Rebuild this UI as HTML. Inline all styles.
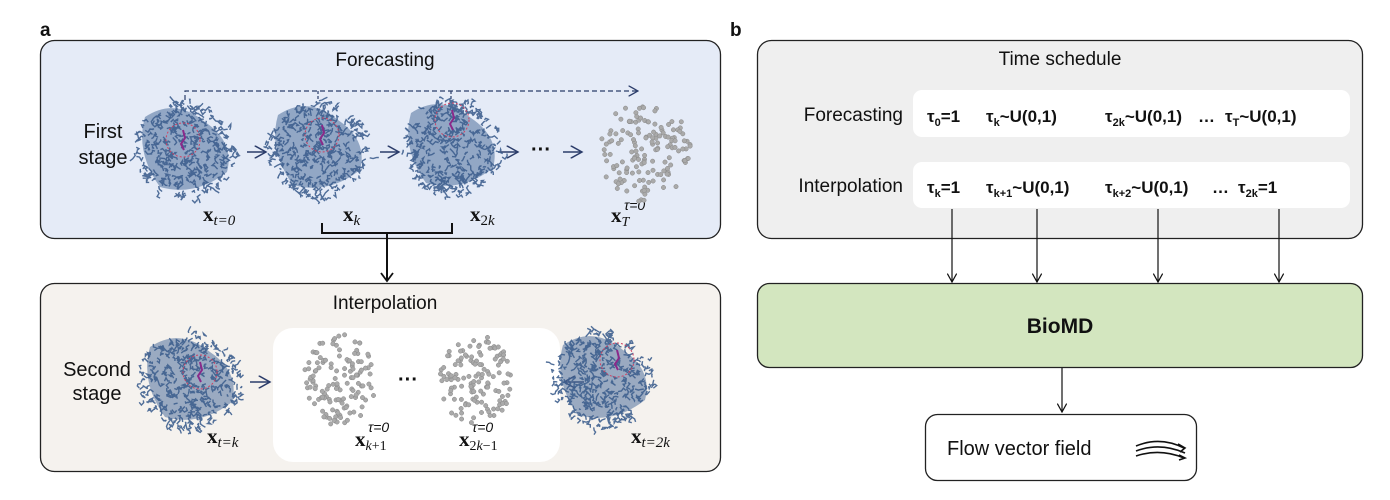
<!DOCTYPE html>
<html><head><meta charset="utf-8"><style>
html,body{margin:0;padding:0;background:#fff;width:1390px;height:500px;overflow:hidden}
svg{display:block}
text{font-family:"Liberation Sans",sans-serif;fill:#111}
.m{font-family:"Liberation Serif",serif;font-weight:bold}
</style></head><body>
<svg id="s" width="1390" height="500" viewBox="0 0 1390 500" xmlns="http://www.w3.org/2000/svg">
<defs>
<marker id="ah" viewBox="0 0 10 10" refX="9" refY="5" markerWidth="8" markerHeight="8" orient="auto"><path d="M0,0 L9,5 L0,10" fill="none" stroke="#111" stroke-width="1.3"/></marker>
<marker id="ab" viewBox="0 0 10 10" refX="9" refY="5" markerWidth="9" markerHeight="9" orient="auto"><path d="M0,0 L9,5 L0,10" fill="none" stroke="#2b3c6a" stroke-width="1.2"/></marker>
</defs>
<text x="40" y="36" font-size="19" font-weight="bold">a</text>
<text x="730" y="36" font-size="19" font-weight="bold">b</text>

<rect x="40.5" y="40.5" width="680" height="198" rx="14" fill="#e5ebf7" stroke="#222" stroke-width="1.3"/>
<text x="385" y="66" font-size="19" text-anchor="middle">Forecasting</text>
<path d="M185,100 V91 H638" fill="none" stroke="#2b3c6a" stroke-width="1.2" stroke-dasharray="5,3" marker-end="url(#ab)"/>
<path d="M318,91 V100 M451,91 V100" stroke="#2b3c6a" stroke-width="1.2" stroke-dasharray="3,2"/>
<text x="103" y="138" font-size="20" text-anchor="middle">First</text>
<text x="103" y="164" font-size="20" text-anchor="middle">stage</text>
<g stroke="#2b3c6a" stroke-width="1.4" fill="none">
<path d="M247,152 H266" marker-end="url(#ab)"/>
<path d="M380,152 H399" marker-end="url(#ab)"/>
<path d="M498,152 H518" marker-end="url(#ab)"/>
<path d="M563,152 H582" marker-end="url(#ab)"/>
</g>
<text x="541" y="156" font-size="20" text-anchor="middle" font-weight="bold">···</text>
<text x="203" y="221" font-size="21" class="m">x<tspan font-size="15" font-style="italic" font-weight="normal" dy="4">t=0</tspan></text>
<text x="343" y="221" font-size="21" class="m">x<tspan font-size="15" font-style="italic" font-weight="normal" dy="4">k</tspan></text>
<text x="470" y="221" font-size="21" class="m">x<tspan font-size="15" font-weight="normal" dy="4">2<tspan font-style="italic">k</tspan></tspan></text>
<text x="611" y="222" font-size="21" class="m">x<tspan font-size="14" font-style="italic" font-weight="normal" dy="4">T</tspan></text>
<text x="624" y="210" font-size="14" font-style="italic" font-family="Liberation Serif">τ=0</text>
<path d="M322,223 V233 H452 V223 M387,233 V280" fill="none" stroke="#111" stroke-width="2"/>
<path d="M381,273 L387,281 L393,273" fill="none" stroke="#111" stroke-width="1.8"/>

<rect x="40.5" y="283.5" width="680" height="188" rx="14" fill="#f5f2ee" stroke="#222" stroke-width="1.3"/>
<text x="385" y="309" font-size="19" text-anchor="middle">Interpolation</text>
<rect x="273" y="328" width="287" height="134" rx="20" fill="#fff"/>
<text x="97" y="376" font-size="20" text-anchor="middle">Second</text>
<text x="97" y="400" font-size="20" text-anchor="middle">stage</text>
<path d="M250,382 H270" stroke="#2b3c6a" stroke-width="1.4" marker-end="url(#ab)"/>
<path d="M584,382 H564" stroke="#2b3c6a" stroke-width="1.4" marker-end="url(#ab)"/>
<text x="408" y="386" font-size="20" text-anchor="middle" font-weight="bold">···</text>
<text x="207" y="443" font-size="21" class="m">x<tspan font-size="15" font-style="italic" font-weight="normal" dy="4">t=k</tspan></text>
<text x="355" y="446" font-size="21" class="m">x<tspan font-size="14" font-weight="normal" dy="4"><tspan font-style="italic">k</tspan>+1</tspan></text>
<text x="368" y="432" font-size="14" font-style="italic" font-family="Liberation Serif">τ=0</text>
<text x="459" y="446" font-size="21" class="m">x<tspan font-size="14" font-weight="normal" dy="4">2<tspan font-style="italic">k</tspan>−1</tspan></text>
<text x="472" y="432" font-size="14" font-style="italic" font-family="Liberation Serif">τ=0</text>
<text x="631" y="443" font-size="21" class="m">x<tspan font-size="15" font-style="italic" font-weight="normal" dy="4">t=2k</tspan></text>

<rect x="757.5" y="40.5" width="605" height="198" rx="14" fill="#efefef" stroke="#222" stroke-width="1.3"/>
<text x="1060" y="65" font-size="19" text-anchor="middle">Time schedule</text>
<rect x="913" y="90" width="437" height="47" rx="9" fill="#fff"/>
<rect x="913" y="162" width="437" height="46" rx="9" fill="#fff"/>
<text x="903" y="121" font-size="19" text-anchor="end">Forecasting</text>
<text x="903" y="192" font-size="19" text-anchor="end">Interpolation</text>
<g font-size="17" font-weight="bold">
<text x="927" y="122">τ<tspan font-size="11" dy="4">0</tspan><tspan dy="-4">=1</tspan></text>
<text x="986" y="122">τ<tspan font-size="11" dy="4">k</tspan><tspan dy="-4">~U(0,1)</tspan></text>
<text x="1105" y="122">τ<tspan font-size="11" dy="4">2k</tspan><tspan dy="-4">~U(0,1)</tspan></text>
<text x="1198" y="122">…</text>
<text x="1225" y="122">τ<tspan font-size="11" dy="4">T</tspan><tspan dy="-4">~U(0,1)</tspan></text>
<text x="927" y="193">τ<tspan font-size="11" dy="4">k</tspan><tspan dy="-4">=1</tspan></text>
<text x="986" y="193">τ<tspan font-size="11" dy="4">k+1</tspan><tspan dy="-4">~U(0,1)</tspan></text>
<text x="1105" y="193">τ<tspan font-size="11" dy="4">k+2</tspan><tspan dy="-4">~U(0,1)</tspan></text>
<text x="1212" y="193">…</text>
<text x="1238" y="193">τ<tspan font-size="11" dy="4">2k</tspan><tspan dy="-4">=1</tspan></text>
</g>
<g stroke="#111" stroke-width="1.2" fill="none" marker-end="url(#ah)">
<path d="M952,209 V282"/><path d="M1037,209 V282"/><path d="M1158,209 V282"/><path d="M1279,209 V282"/>
</g>
<rect x="757.5" y="283.5" width="605" height="84" rx="12" fill="#d3e6bf" stroke="#222" stroke-width="1.3"/>
<text x="1060" y="333" font-size="21" font-weight="bold" text-anchor="middle">BioMD</text>
<path d="M1062,368 V412" stroke="#111" stroke-width="1.2" marker-end="url(#ah)"/>
<rect x="925.5" y="414.5" width="271" height="66" rx="12" fill="#fff" stroke="#222" stroke-width="1.3"/>
<text x="947" y="455" font-size="20">Flow vector field</text>
<g stroke="#111" stroke-width="1.6" fill="none">
<path d="M1136,446 Q1160,436 1184,448"/><path d="M1136,451 Q1160,442 1185,453"/><path d="M1136,456 Q1160,448 1184,458"/>
<path d="M1178,444 L1185,448 L1180,452 M1179,455 L1185,458 L1179,460"/>
</g>
<g id="gen"></g>
</svg>
<script>
(function(){
var seed=7;function r(){seed=(seed*16807)%2147483647;return seed/2147483647;}
var g=document.getElementById('gen'),h='';
function prot(cx,cy,lx,ly){
  var d='';
  h+='<path d="M'+(cx-40)+','+(cy-35)+' Q'+(cx-10)+','+(cy-55)+' '+(cx+20)+','+(cy-30)+' Q'+(cx+50)+','+(cy-10)+' '+(cx+42)+','+(cy+20)+' Q'+(cx+10)+','+(cy+45)+' '+(cx-25)+','+(cy+35)+' Q'+(cx-50)+','+(cy)+' '+(cx-40)+','+(cy-35)+'Z" fill="#4f6f9c" opacity="0.55"/>';
  for(var i=0;i<320;i++){
    var a=r()*6.283,rr=Math.sqrt(r());
    var sx=1+0.15*Math.cos(a*2);
    var x=cx+Math.cos(a)*rr*46*sx,y=cy+Math.sin(a)*rr*50;
    d+='M'+x.toFixed(1)+','+y.toFixed(1);
    for(var j=0;j<3;j++){x+=(r()-0.5)*7;y+=(r()-0.5)*7;d+='L'+x.toFixed(1)+','+y.toFixed(1);}
  }
  h+='<path d="'+d+'" stroke="#3e5f8e" stroke-width="1.4" fill="none" opacity="0.9"/>';
  h+='<circle cx="'+lx+'" cy="'+ly+'" r="17" fill="none" stroke="#d04060" stroke-width="1" stroke-dasharray="2,2"/>';
  h+='<path d="M'+lx+','+(ly-10)+' l2,8 l-4,6 l3,6" stroke="#8a2a8a" stroke-width="2" fill="none"/>';
}
function cloud(cx,cy,rx,ry,n){
  for(var i=0;i<n;i++){var a=r()*6.283,rr=Math.sqrt(r());
    h+='<circle cx="'+(cx+Math.cos(a)*rr*rx).toFixed(1)+'" cy="'+(cy+Math.sin(a)*rr*ry).toFixed(1)+'" r="2.2" fill="#aaa" stroke="#888" stroke-width="0.5"/>';}
}
prot(185,152,183,140);prot(318,150,322,135);prot(451,148,452,120);
prot(190,382,200,372);prot(603,380,617,360);
cloud(645,152,46,50,150);cloud(340,380,36,46,130);cloud(476,380,36,46,130);
g.innerHTML=h;
})();
</script>
</body></html>
